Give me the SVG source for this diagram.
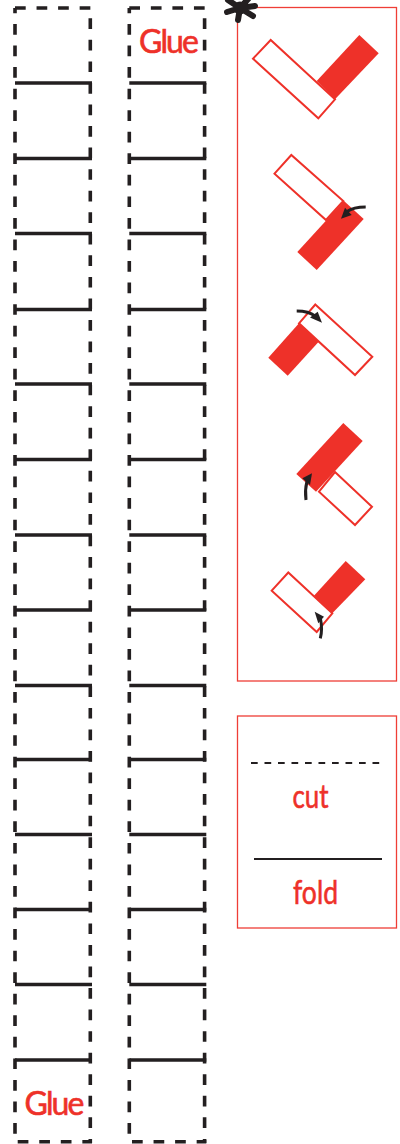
<svg xmlns="http://www.w3.org/2000/svg" width="400" height="1144" viewBox="0 0 400 1144">
<defs>
<g id="strip-lines">
<path class="cut" d="M15 8H92"/>
<path class="cut" d="M90.300 18.300V1143"/>
<path class="cut" style="stroke-dashoffset:5.550" d="M15 8V1141"/>
<path class="cut" d="M17.700 1141.700H92"/>
<path class="fold" d="M15 83H92M15 158.500H92M15 233.500H92M15 309.500H92M15 384H92M15 459.500H92M15 535H92M15 610H92M15 685.500H92M15 759.500H92M15 834.500H92M15 909.500H92M15 984.500H92M15 1060H92"/>
</g>
</defs>
<style>
.cut{fill:none;stroke:#231f20;stroke-width:3.600;stroke-dasharray:10.700 10.850}
.fold{fill:none;stroke:#231f20;stroke-width:3.300}
.frame{fill:#fff;stroke:#ef3e36;stroke-width:1.300}
.w{fill:#fff;stroke:#ee3129;stroke-width:2}
.r{fill:#ee3129;stroke:none}
.ar{fill:none;stroke:#231f20;stroke-width:3}
.ah{fill:#231f20;stroke:none}
text{font-family:"Lato","Liberation Sans",sans-serif;fill:#ee3129;stroke:#ee3129;stroke-width:.6;font-size:32px}
</style>
<g id="strip-left">
<use href="#strip-lines"/>
<text x="24.500" y="1114.500" textLength="60">Glue</text>
</g>
<g id="strip-right">
<use href="#strip-lines" x="114.300"/>
<text x="139" y="53" textLength="60">Glue</text>
</g>
<g id="instructions">
<rect class="frame" x="237.500" y="7.500" width="159" height="673.500"/>
<g id="step-1">
<path class="w" d="M270.700 40L253 58.700L318.300 118.300L335 99.300Z"/>
<path class="r" d="M359.300 35L378.700 53.300L335 99.300L316.700 81Z"/>
</g>
<g id="step-2">
<path class="w" d="M291.300 155L274.500 173.700L326 220L343.300 201Z"/>
<path class="r" d="M344 201L363.700 219L316.700 270L297.300 252Z"/>
<path class="ar" d="M365.700 207C358 207 352 208 347 211.500"/>
<path class="ah" d="M341 218.700L345 207.700L351.700 215Z"/>
</g>
<g id="step-3">
<path class="w" d="M315.300 304.500L372.300 356.700L355 375L299 323.300Z"/>
<path class="r" d="M299 323.300L268.300 357.700L287.700 375.700L318.700 341.700Z"/>
<path class="ar" d="M296.700 311C304 311 310 312 315 316"/>
<path class="ah" d="M322 322.700L317.700 311.700L310 317.500Z"/>
</g>
<g id="step-4">
<path class="w" d="M335 472L372 506.700L355 525L319 491.700Z"/>
<path class="r" d="M343.300 423L362.700 441L316 491.700L296.300 474Z"/>
<path class="ar" d="M306 500C305 493 305.500 487 307 481"/>
<path class="ah" d="M312 473.300L302.300 478.300L310 485Z"/>
</g>
<g id="step-5">
<path class="w" d="M288.300 572.500L271.700 590.700L316.700 632L332.300 613.300Z"/>
<path class="r" d="M345.700 561L365.300 579.300L332.300 613.300L314 595.700Z"/>
<path class="ar" d="M320.300 638.300C322 632 322 626 320.500 619"/>
<path class="ah" d="M314.700 611.700L324 616.700L318.300 623.300Z"/>
</g>
</g>
<g id="legend">
<rect class="frame" x="237.500" y="716" width="159" height="212"/>
<path d="M251 763H380" fill="none" stroke="#231f20" stroke-width="2" stroke-dasharray="6.700 6.800"/>
<path d="M254 859H382" fill="none" stroke="#231f20" stroke-width="2"/>
<text x="292.500" y="808" textLength="36" lengthAdjust="spacingAndGlyphs">cut</text>
<text x="293" y="904" textLength="45" lengthAdjust="spacingAndGlyphs">fold</text>
</g>
<g id="star">
<circle cx="240" cy="8" r="6.500" fill="#231f20"/>
<path d="M240 8L228 0M240 8L249 -2M240 8L255 6M240 8L253 16M240 8L238 20M240 8L227 12" stroke="#231f20" stroke-width="6" stroke-linecap="round" fill="none"/>
</g>
</svg>
